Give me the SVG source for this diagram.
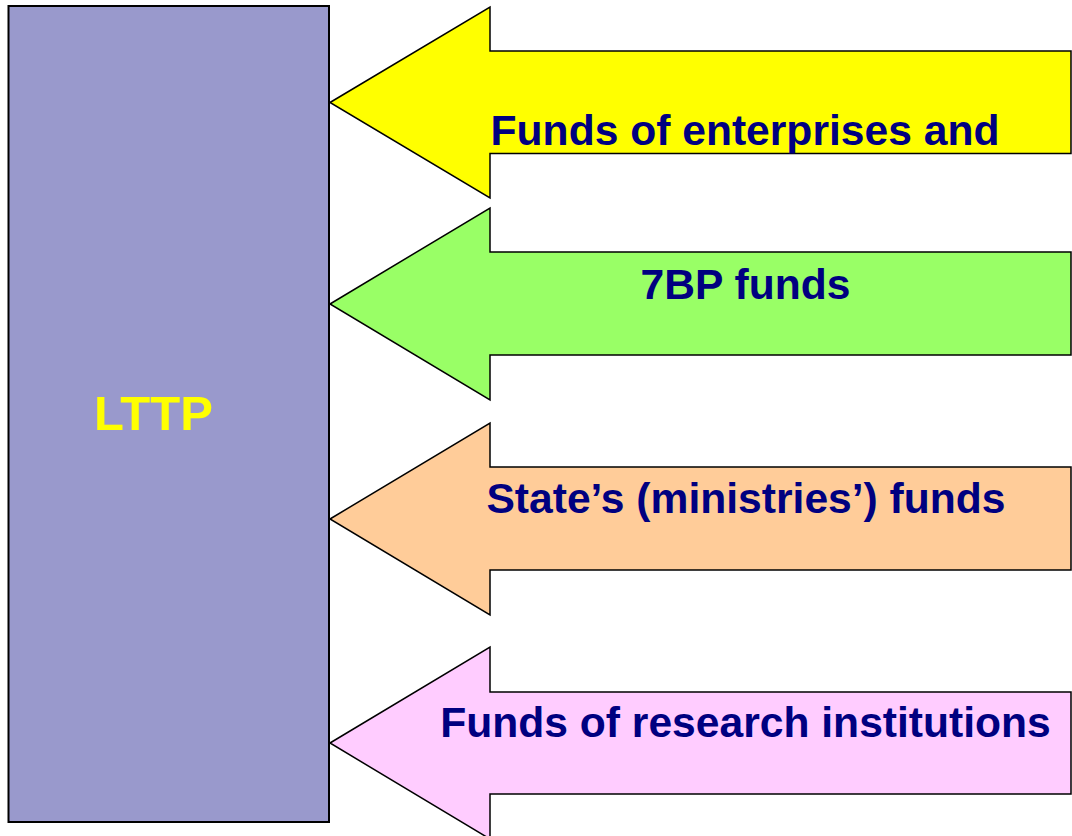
<svg xmlns="http://www.w3.org/2000/svg" width="1072" height="836" viewBox="0 0 1072 836">
  <style>
    .arrow { stroke: #000; stroke-width: 1.5; stroke-linejoin: miter; }
    .lbl { font-family: "Liberation Sans", Arial, sans-serif; font-weight: bold; font-size: 42.6px; fill: #000080; text-anchor: middle; }
    .main { font-family: "Liberation Sans", Arial, sans-serif; font-weight: bold; font-size: 49px; fill: #FFFF00; text-anchor: middle; }
  </style>
  <defs>
    <clipPath id="clip1">
      <polygon points="330,102.5 490,7 490,51 1071,51 1071,153.5 490,153.5 490,198"/>
    </clipPath>
  </defs>
  <rect width="1072" height="836" fill="#fff"/>
  <g id="lttp">
    <rect x="8.5" y="6" width="320.5" height="816" fill="#9999CC" stroke="#000" stroke-width="2"/>
    <text class="main" x="153.5" y="430">LTTP</text>
  </g>
  <g id="connectors">
    <g id="arrow-enterprises">
      <polygon class="arrow" fill="#FFFF00" points="330,102.5 490,7 490,51 1071,51 1071,153.5 490,153.5 490,198"/>
      <text class="lbl" x="745" y="145" clip-path="url(#clip1)">Funds of enterprises and</text>
    </g>
    <g id="arrow-7bp">
      <polygon class="arrow" fill="#99FF66" points="330,304 490,208 490,252 1071,252 1071,355 490,355 490,400"/>
      <text class="lbl" x="745.5" y="299">7BP funds</text>
    </g>
    <g id="arrow-state">
      <polygon class="arrow" fill="#FFCC99" points="330,519 490,423 490,467 1071,467 1071,570 490,570 490,615"/>
      <text class="lbl" x="746" y="513">State’s (ministries’) funds</text>
    </g>
    <g id="arrow-research">
      <polygon class="arrow" fill="#FFCCFF" points="330,743 490,647 490,692 1071,692 1071,794 490,794 490,839"/>
      <text class="lbl" x="745.5" y="737">Funds of research institutions</text>
    </g>
  </g>
</svg>
